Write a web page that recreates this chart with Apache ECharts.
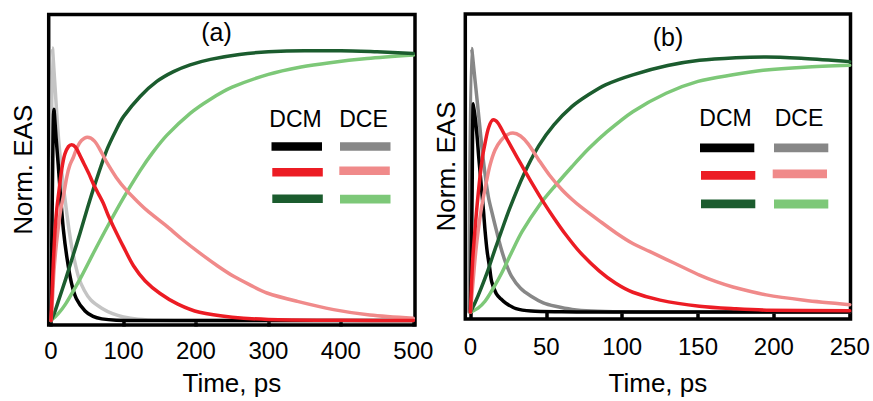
<!DOCTYPE html>
<html>
<head>
<meta charset="utf-8">
<script src="https://cdn.jsdelivr.net/npm/echarts@6/dist/echarts.min.js"></script>
<style>html,body{margin:0;padding:0;background:#fff}#c{width:873px;height:401px}</style>
</head>
<body>
<div id="c"></div>
<script>
// ---- Data (time in ps, normalized EAS amplitude) ----
const ticksA = [0, 100, 200, 300, 400, 500];
const ticksB = [0, 50, 100, 150, 200, 250];

// Panel (a)
const aDCM1 = [[0,0],[2,0.5],[4,0.775],[7,0.67],[10,0.57],[13,0.46],[17,0.335],[22,0.23],[28,0.14],[35,0.08],[47,0.035],[58,0.015],[70,0.006],[90,0.001],[120,0],[500,0]];
const aDCE1 = [[0,0],[2,1.0],[5,0.88],[10,0.68],[15,0.54],[20,0.43],[25,0.33],[30,0.25],[38,0.16],[46,0.11],[55,0.075],[70,0.045],[85,0.025],[100,0.013],[120,0.005],[150,0.001],[200,0],[500,0]];
const aDCM2 = [[0,0],[1.5,0.1],[3,0.2],[5.5,0.33],[8,0.41],[10,0.455],[14.7,0.553],[19,0.61],[24,0.638],[28.5,0.645],[34,0.635],[40,0.605],[45,0.578],[52,0.54],[58,0.504],[65,0.467],[72,0.431],[79,0.385],[86,0.345],[100,0.27],[114,0.2],[130,0.145],[150,0.1],[175,0.06],[205,0.03],[250,0.012],[300,0.004],[400,0.001],[500,0]];
const aDCE2 = [[0,0],[2,0.08],[4,0.18],[7,0.27],[10,0.34],[13,0.40],[17,0.455],[22,0.53],[26,0.57],[31,0.60],[36,0.635],[42,0.66],[50,0.672],[60,0.658],[70,0.615],[77,0.58],[90,0.525],[104,0.478],[118,0.44],[132,0.405],[160,0.345],[180,0.3],[205,0.248],[230,0.2],[252,0.162],[275,0.13],[298,0.101],[340,0.07],[390,0.04],[440,0.02],[500,0.008]];
const aDCM3 = [[0,0],[5,0.03],[10,0.07],[20,0.15],[30,0.235],[40,0.32],[50,0.41],[60,0.495],[77,0.626],[90,0.70],[100,0.748],[123,0.822],[146,0.877],[169,0.913],[192,0.938],[220,0.958],[260,0.976],[300,0.986],[350,0.99],[400,0.99],[450,0.986],[500,0.98]];
const aDCE3 = [[0,0],[10,0.025],[20,0.06],[30,0.105],[42,0.162],[60,0.255],[80,0.355],[100,0.45],[123,0.55],[140,0.615],[160,0.68],[192,0.76],[220,0.812],[250,0.856],[300,0.903],[345,0.93],[385,0.946],[436,0.961],[500,0.974]];

// Panel (b)
const bDCM1 = [[0,0],[1,0.4],[2,0.79],[4,0.69],[5.6,0.578],[8.5,0.39],[9.6,0.31],[11,0.23],[12.6,0.17],[14,0.115],[17,0.07],[20,0.05],[23,0.035],[30,0.013],[40,0.004],[60,0.001],[80,0],[250,0]];
const bDCE1 = [[-1,0],[0.8,1.0],[3,0.88],[5,0.77],[8.4,0.58],[11.7,0.44],[14.5,0.37],[17.5,0.3],[20,0.245],[23,0.19],[27,0.136],[33,0.09],[40,0.06],[48,0.035],[56,0.022],[67,0.01],[80,0.004],[100,0.001],[130,0],[250,0]];
const bDCM2 = [[0,0],[1.5,0.2],[3,0.3125],[4.1,0.388],[6.3,0.514],[8,0.59],[9.6,0.64],[12,0.70],[15,0.729],[18,0.718],[22.7,0.67],[28,0.615],[33.7,0.557],[37,0.524],[42.5,0.47],[48,0.418],[55,0.357],[63,0.292],[72,0.228],[85,0.155],[96,0.108],[107,0.075],[125,0.045],[151,0.022],[175,0.012],[195,0.007],[250,0.005]];
const bDCE2 = [[0,0],[1.5,0.1],[3,0.2],[4.7,0.29],[7.4,0.40],[10.7,0.50],[13,0.56],[16.2,0.615],[20,0.65],[24,0.672],[28,0.679],[33,0.668],[38,0.638],[44.7,0.58],[52,0.52],[60,0.466],[67,0.427],[73,0.398],[85,0.346],[96,0.3],[107,0.26],[118,0.23],[129,0.2],[140,0.17],[151,0.14],[162,0.115],[173,0.095],[195,0.065],[220,0.045],[250,0.028]];
const bDCM3 = [[0,0],[3,0.035],[7,0.09],[11.7,0.161],[16,0.235],[20,0.30],[26,0.395],[35,0.52],[45,0.63],[55,0.71],[67,0.78],[78,0.825],[89,0.862],[107,0.9],[130,0.935],[151,0.955],[175,0.965],[195,0.968],[220,0.962],[250,0.95]];
const bDCE3 = [[0,0],[5,0.015],[9.6,0.041],[15,0.09],[20.6,0.148],[27,0.225],[34,0.305],[46,0.41],[56,0.48],[67,0.552],[78,0.62],[89,0.679],[107,0.76],[129,0.83],[150,0.875],[173,0.9],[193,0.917],[220,0.929],[250,0.936]];

const legendHeaders = ['DCM', 'DCE'];

// ---- Styles ----
const FONT = 'Liberation Sans, Arial, sans-serif';
const C = {
  black: '#000000', grayA: '#c4c4c4', gray: '#878787',
  red: '#ec1c24', pink: '#f08a8a', dgreen: '#1b5c2e', lgreen: '#7dc878'
};
const LW = 3.5;

function line(name, data, color, gi, z) {
  return {
    type: 'line', name: name, data: data, xAxisIndex: gi, yAxisIndex: gi,
    showSymbol: false, symbol: 'none', smooth: 0.3,
    lineStyle: { color: color, width: LW, cap: 'round', join: 'round' },
    z: z, animation: false
  };
}

function xAx(gi, min, max, ticks, margin, gap) {
  return {
    type: 'value', gridIndex: gi, min: min, max: max,
    name: 'Time, ps', nameLocation: 'middle', nameGap: gap,
    nameTextStyle: { fontFamily: FONT, fontSize: 26, color: '#000' },
    axisLine: { show: false },
    axisTick: { show: true, length: 6, inside: false, customValues: ticks, lineStyle: { color: '#000', width: 3.5 } },
    axisLabel: { show: true, customValues: ticks, margin: margin, fontFamily: FONT, fontSize: 24, color: '#000' },
    splitLine: { show: false }
  };
}
function yAx(gi, min, max, gap) {
  return {
    type: 'value', gridIndex: gi, min: min, max: max,
    name: 'Norm. EAS', nameLocation: 'middle', nameRotate: 90, nameGap: gap,
    nameTextStyle: { fontFamily: FONT, fontSize: 26, color: '#000' },
    axisLine: { show: false }, axisTick: { show: false }, axisLabel: { show: false }, splitLine: { show: false }
  };
}

function legendBlock(tx, ty, rows, w, h) {
  const els = [];
  els.push({ type: 'text', x: tx[0], y: ty, style: { text: legendHeaders[0], fontFamily: FONT, fontSize: 23, fill: '#000', textAlign: 'center', textVerticalAlign: 'middle' } });
  els.push({ type: 'text', x: tx[1], y: ty, style: { text: legendHeaders[1], fontFamily: FONT, fontSize: 23, fill: '#000', textAlign: 'center', textVerticalAlign: 'middle' } });
  rows.forEach(r => {
    els.push({ type: 'rect', shape: { x: r[0], y: r[1], width: w, height: h }, style: { fill: r[2] } });
  });
  return els;
}

const chart = echarts.init(document.getElementById('c'), null, { renderer: 'svg', width: 873, height: 401 });

const graphics = [].concat(
  [{ type: 'text', x: 216.5, y: 31.5, style: { text: '(a)', fontFamily: FONT, fontSize: 25, fill: '#000', textAlign: 'center', textVerticalAlign: 'middle' } },
   { type: 'text', x: 668, y: 36.5, style: { text: '(b)', fontFamily: FONT, fontSize: 25, fill: '#000', textAlign: 'center', textVerticalAlign: 'middle' } }],
  legendBlock([295.5, 363.5], 118.5, [
    [271.5, 142.2, C.black], [340, 142.2, C.gray],
    [272.3, 168, C.red], [339.3, 166.5, C.pink],
    [272.3, 194.4, C.dgreen], [340, 194.8, C.lgreen]
  ], 50.5, 8.6),
  legendBlock([725.5, 799], 117.5, [
    [700, 143.5, C.black], [774, 143.5, C.gray],
    [701, 171, C.red], [772.7, 169.4, C.pink],
    [701, 199.4, C.dgreen], [774, 199.6, C.lgreen]
  ], 54.3, 8.8)
);

chart.setOption({
  backgroundColor: '#fff',
  animation: false,
  grid: [
    { left: 48.7, top: 14.5, width: 366.3, height: 311, show: true, borderColor: '#000', borderWidth: 3.5, backgroundColor: 'transparent' },
    { left: 465.3, top: 14, width: 385.2, height: 305.5, show: true, borderColor: '#000', borderWidth: 3.5, backgroundColor: 'transparent' }
  ],
  xAxis: [ xAx(0, -3.2, 502.3, ticksA, 13, 45), xAx(1, -3.4, 250.5, ticksB, 15, 51) ],
  yAxis: [ yAx(0, -0.0165, 1.1227, 13), yAx(1, -0.0265, 1.1307, 6) ],
  series: [
    line('DCE 1 (a)', aDCE1, C.grayA, 0, 2),
    line('DCM 1 (a)', aDCM1, C.black, 0, 3),
    line('DCE 3 (a)', aDCE3, C.lgreen, 0, 4),
    line('DCM 3 (a)', aDCM3, C.dgreen, 0, 5),
    line('DCE 2 (a)', aDCE2, C.pink, 0, 6),
    line('DCM 2 (a)', aDCM2, C.red, 0, 7),
    line('DCE 1 (b)', bDCE1, C.gray, 1, 2),
    line('DCM 1 (b)', bDCM1, C.black, 1, 3),
    line('DCE 3 (b)', bDCE3, C.lgreen, 1, 4),
    line('DCM 3 (b)', bDCM3, C.dgreen, 1, 5),
    line('DCE 2 (b)', bDCE2, C.pink, 1, 6),
    line('DCM 2 (b)', bDCM2, C.red, 1, 7)
  ],
  graphic: graphics
});
</script>
</body>
</html>
